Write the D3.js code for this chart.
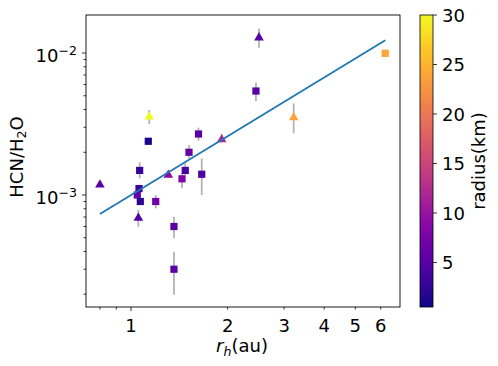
<!DOCTYPE html>
<html>
<head>
<meta charset="utf-8">
<script src="https://cdn.jsdelivr.net/npm/d3@7"></script>
<style>
  body { margin: 0; background: #fff; }
  text { font-family: "DejaVu Sans", sans-serif; fill: #000; }
</style>
</head>
<body>
<div id="chart"></div>
<script>
// heliocentric distance (au), HCN/H2O ratio, error range, nucleus radius (km), marker
var rh     = [0.80, 1.132, 1.623, 1.917, 1.516, 1.476, 1.307, 1.442, 1.661, 1.064, 1.059,
              1.046, 1.069, 1.194, 1.054, 1.361, 1.361, 1.140, 2.505, 2.451, 3.213, 6.197];
var ratio  = [1.196e-3, 2.39e-3, 2.69e-3, 2.49e-3, 2.0e-3, 1.49e-3, 1.40e-3, 1.30e-3, 1.40e-3, 1.49e-3, 1.11e-3,
              1.0e-3, 9.0e-4, 9.0e-4, 6.97e-4, 6.0e-4, 3.0e-4, 3.6e-3, 1.30e-2, 5.4e-3, 3.56e-3, 9.95e-3];
var errLo  = [null, null, 2.41e-3, 2.35e-3, 1.81e-3, 1.38e-3, null, 1.115e-3, 1.0e-3, 1.31e-3, 1.05e-3,
              null, 8.6e-4, 8.06e-4, 5.98e-4, 4.95e-4, 1.98e-4, 3.16e-3, 1.09e-2, 4.59e-3, 2.72e-3, null];
var errHi  = [null, null, 2.98e-3, 2.68e-3, 2.25e-3, 1.67e-3, null, 1.43e-3, 1.81e-3, 1.70e-3, 1.18e-3,
              null, 9.4e-4, 1.0e-3, 7.85e-4, 7.03e-4, 3.99e-4, 3.97e-3, 1.49e-2, 6.18e-3, 4.42e-3, null];
var radius = [5, 1, 5, 12, 6, 4, 9, 8, 4, 3, 3, 6, 2, 7, 5, 5, 5, 30, 5, 5, 24, 24];
var marker = ["tri", "sq", "sq", "tri", "sq", "sq", "tri", "sq", "sq", "sq", "sq",
              "sq", "sq", "sq", "tri", "sq", "sq", "tri", "tri", "sq", "tri", "sq"];

// power-law fit, end points
var fitR = [0.80, 6.2];
var fitRatio = [7.35e-4, 1.23e-2];

var xTicks = [1, 2, 3, 4, 5, 6];
var xMinor = [0.8, 0.9];
var yMajor = [1e-3, 1e-2];
var cbTicks = [5, 10, 15, 20, 25, 30];

var W = 498, H = 366;
var margin = {top: 15, left: 86};
var pw = 314, ph = 292;
var fs = "18px", fsSmall = "12.6px";

var svg = d3.select("#chart").append("svg")
  .attr("width", W).attr("height", H);

var x = d3.scaleLog().domain([0.724, 6.89]).range([margin.left, margin.left + pw]);
var y = d3.scaleLog().domain([1.626e-4, 1.853e-2]).range([margin.top + ph, margin.top]);
var color = d3.scaleSequential(d3.interpolatePlasma).domain([0.5, 30]);

var bottom = margin.top + ph;

// y ticks
var yMinor = [];
[1e-4, 1e-3, 1e-2].forEach(function(d) {
  for (var k = 2; k <= 9; k++) {
    var v = d * k;
    if (v > y.domain()[0] && v < y.domain()[1]) yMinor.push(v);
  }
});
svg.selectAll(".yminor").data(yMinor).enter().append("line")
  .attr("x1", margin.left - 2.5).attr("x2", margin.left)
  .attr("y1", function(d) { return y(d); }).attr("y2", function(d) { return y(d); })
  .attr("stroke", "#000").attr("stroke-width", 0.8);
svg.selectAll(".ymajor").data(yMajor).enter().append("line")
  .attr("x1", margin.left - 4).attr("x2", margin.left)
  .attr("y1", function(d) { return y(d); }).attr("y2", function(d) { return y(d); })
  .attr("stroke", "#000").attr("stroke-width", 0.8);
var ylab = svg.selectAll(".ylab").data(yMajor).enter().append("text")
  .attr("x", margin.left - 9).attr("y", function(d) { return y(d) + 8.5; })
  .attr("text-anchor", "end").style("font-size", fs);
ylab.append("tspan").text("10");
ylab.append("tspan").attr("dy", -7).style("font-size", fsSmall)
  .text(function(d) { return "\u2212" + Math.round(-Math.log10(d)); });

// x ticks
svg.selectAll(".xminor").data(xMinor.concat(xTicks.slice(1))).enter().append("line")
  .attr("x1", function(d) { return x(d); }).attr("x2", function(d) { return x(d); })
  .attr("y1", bottom).attr("y2", bottom + 2.5)
  .attr("stroke", "#000").attr("stroke-width", 0.8);
svg.append("line")
  .attr("x1", x(1)).attr("x2", x(1)).attr("y1", bottom).attr("y2", bottom + 4)
  .attr("stroke", "#000").attr("stroke-width", 0.8);
svg.selectAll(".xlab").data(xTicks).enter().append("text")
  .attr("x", function(d) { return x(d); }).attr("y", bottom + 25)
  .attr("text-anchor", "middle").style("font-size", fs)
  .text(function(d) { return d; });

// axis labels
var xl = svg.append("text").attr("x", 242).attr("y", 352)
  .attr("text-anchor", "middle").style("font-size", fs);
xl.append("tspan").style("font-style", "italic").text("r");
xl.append("tspan").style("font-style", "italic").style("font-size", fsSmall).attr("dy", 4).text("h");
xl.append("tspan").attr("dy", -4).text("(au)");

var yl = svg.append("text")
  .attr("transform", "translate(23,157) rotate(-90)")
  .attr("text-anchor", "middle").style("font-size", fs);
yl.append("tspan").text("HCN/H");
yl.append("tspan").style("font-size", fsSmall).attr("dy", 3).text("2");
yl.append("tspan").attr("dy", -3).text("O");

// error bars
var idx = d3.range(rh.length);
svg.selectAll(".err").data(idx.filter(function(i) { return errLo[i] !== null; }))
  .enter().append("line")
  .attr("x1", function(i) { return x(rh[i]); }).attr("x2", function(i) { return x(rh[i]); })
  .attr("y1", function(i) { return y(errLo[i]); }).attr("y2", function(i) { return y(errHi[i]); })
  .attr("stroke", "#b3b3b3").attr("stroke-width", 1.8);

// markers
var sq = d3.symbol().type(d3.symbolSquare).size(52);
var tri = d3.symbol().type(d3.symbolTriangle).size(40);
svg.selectAll(".pt").data(idx).enter().append("path")
  .attr("transform", function(i) {
    var dy = marker[i] === "tri" ? 0.8 : 0;
    return "translate(" + x(rh[i]) + "," + (y(ratio[i]) + dy) + ")";
  })
  .attr("d", function(i) { return marker[i] === "tri" ? tri() : sq(); })
  .attr("fill", function(i) { return color(radius[i]); });

// fit line
svg.append("path")
  .datum(d3.range(fitR.length))
  .attr("fill", "none").attr("stroke", "#1f77b4").attr("stroke-width", 1.8)
  .attr("d", d3.line()
    .x(function(i) { return x(fitR[i]); })
    .y(function(i) { return y(fitRatio[i]); }));

// plot frame
svg.append("rect")
  .attr("x", margin.left).attr("y", margin.top).attr("width", pw).attr("height", ph)
  .attr("fill", "none").attr("stroke", "#000").attr("stroke-width", 0.9);

// colorbar
var cbX = 420, cbW = 13;
var cy = d3.scaleLinear().domain([0.5, 30]).range([bottom, margin.top]);
var grad = svg.append("defs").append("linearGradient")
  .attr("id", "cb").attr("x1", 0).attr("y1", 1).attr("x2", 0).attr("y2", 0);
d3.range(0, 1.0001, 0.05).forEach(function(t) {
  grad.append("stop").attr("offset", t).attr("stop-color", d3.interpolatePlasma(t));
});
svg.append("rect")
  .attr("x", cbX).attr("y", margin.top).attr("width", cbW).attr("height", ph)
  .attr("fill", "url(#cb)").attr("stroke", "#000").attr("stroke-width", 0.8);
svg.selectAll(".cbt").data(cbTicks).enter().append("line")
  .attr("x1", cbX + cbW).attr("x2", cbX + cbW + 4)
  .attr("y1", function(d) { return cy(d); }).attr("y2", function(d) { return cy(d); })
  .attr("stroke", "#000").attr("stroke-width", 0.8);
svg.selectAll(".cbl").data(cbTicks).enter().append("text")
  .attr("x", cbX + cbW + 9).attr("y", function(d) { return cy(d) + 7; })
  .style("font-size", fs).text(function(d) { return d; });
svg.append("text")
  .attr("transform", "translate(485," + (margin.top + ph / 2) + ") rotate(-90)")
  .attr("text-anchor", "middle").style("font-size", fs)
  .text("radius(km)");
</script>
</body>
</html>
